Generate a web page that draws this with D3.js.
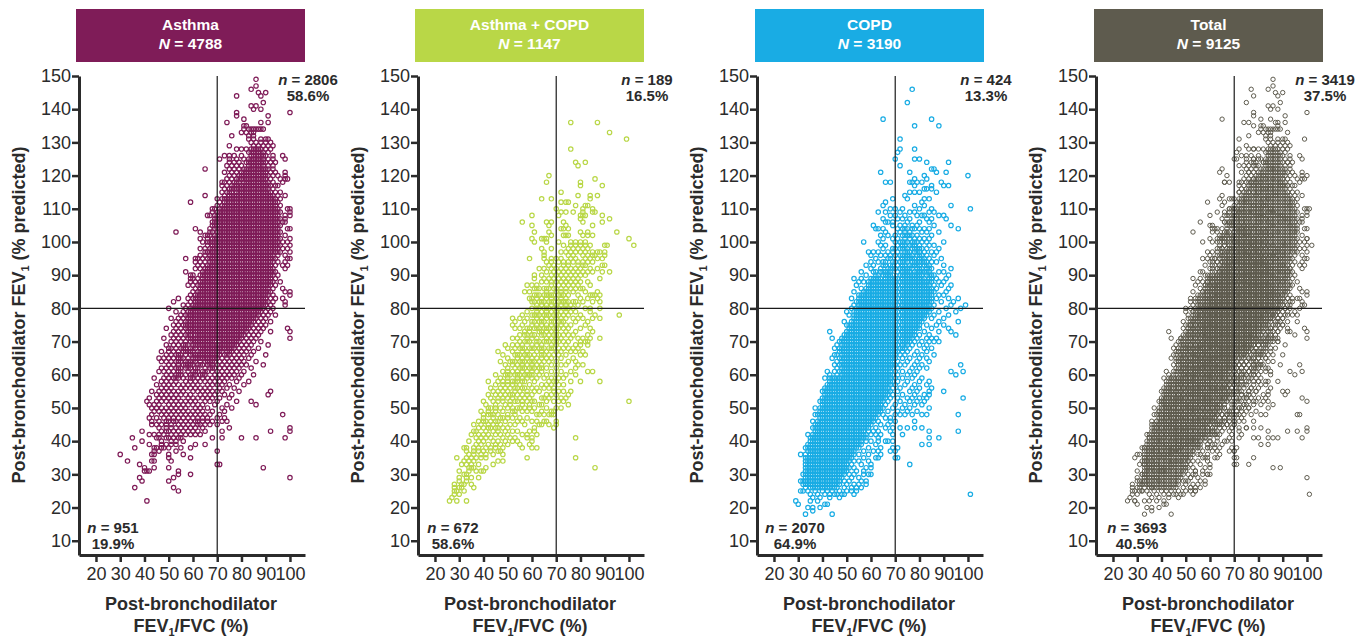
<!DOCTYPE html>
<html>
<head>
<meta charset="utf-8">
<script src="https://cdnjs.cloudflare.com/ajax/libs/d3/7.8.5/d3.min.js"></script>
<style>
body { margin: 0; background: #fff; }
svg { display: block; font-family: 'Liberation Sans', Arial, sans-serif; }
.tick text { font-size: 18px; fill: #2b2b2b; }
.title { font-size: 18px; font-weight: bold; fill: #2b2b2b; text-anchor: middle; }
.note { font-size: 15px; font-weight: bold; fill: #2b2b2b; text-anchor: middle; }
.head { font-size: 15.5px; font-weight: bold; fill: #fff; text-anchor: middle; }
</style>
</head>
<body>
<div id="chart"></div>
<script>
// each row is [FEV1 % predicted, FEV1/FVC values...]
const asthmaRows = [
[149,86],[147,86],[146,84],[145,87,90],[144,78,88],[142,89],[141,84,86],[140,85,88],[139,78,100],[138,78,91],[137,81],
[136,74,88,91],[135,81,82],[134,81,83,84,85,86,87,88,89],[133,80,82,84,85],[132,76,83,85],[131,83,85,88,90,91],
[130,84,86,88,90,92],[129,75,85,87,89,91,93],[128,78,80,82,84,86,88,90,92],[127,83,85,87,89,91],
[126,73,75,77,80,84,86,88,90,93,97],[125,71,75,78,81,83,85,87,89,91,93,98],
[124,75,77,79,82,84,86,88,90,92,94],[123,74,76,78,80,83,85,87,89,91,93],[122,65,75,77,79,81,83,85,87,89,91,93],
[121,73,76,78,80,82,84,86,88,90,92,94,98],[120,75,77,79,81,83,85,87,89,91,93,95,98],
[119,74,76,78,80,82,84,86,88,90,92,96,98,99],[118,72,73,75,77,79,81,83,85,87,89,91,93,97],
[117,72,74,76,78,80,82,84,86,88,90,92,94,95],[116,73,75,77,79,81,83,85,87,89,91,93],
[115,72,74,76,78,80,82,84,86,88,90,92,94,96],[114,65,73,75,77,79,81,83,85,87,89,91,93,95,98],
[113,70,72,74,76,78,80,82,84,86,88,90,92,94,96],[112,59,71,73,75,77,79,81,83,85,87,89,91,93,95],
[111,70,72,74,76,78,80,82,84,86,88,90,92,94,96],[110,68,69,71,73,75,77,79,81,83,85,87,89,91,93,95,99,100],
[109,68,70,72,74,76,78,80,82,84,86,88,90,92,94,96,100],[108,66,67,69,71,73,75,77,79,81,83,85,87,89,91,93,95,98,100],
[107,69,70,72,74,76,78,80,82,84,86,88,90,92,94,96,98],[106,68,69,71,73,75,77,79,81,83,85,87,89,91,93,95,97,98],
[105,68,70,72,74,76,78,80,82,84,86,88,90,92,94,96],[104,61,67,69,71,73,75,77,79,81,83,85,87,89,91,93,95,99,100],
[103,53,63,67,68,70,72,74,76,78,80,82,84,86,88,90,92,94,96],[102,65,66,67,69,71,73,75,77,79,81,83,85,87,89,91,93,95,98],
[101,63,66,68,70,72,74,76,78,80,82,84,86,88,90,92,94,96,100],[100,64,66,67,69,71,73,75,77,79,81,83,85,87,89,91,93,95,97,99],
[99,66,68,70,72,74,76,78,80,82,84,86,88,90,92,94,96,100],[98,63,65,67,69,71,73,75,77,79,81,83,85,87,89,91,93,95,97,99],
[97,65,66,68,70,72,74,76,78,80,82,84,86,88,90,92,94,96,100],[96,63,65,67,69,71,73,75,77,79,81,83,85,87,89,91,93,95,98],
[95,57,61,62,64,66,68,70,72,74,76,78,80,82,84,86,88,90,92,94,99,100],[94,61,63,65,67,69,71,73,75,77,79,81,83,85,87,89,91,93,95,98],
[93,62,64,66,68,70,72,74,76,78,80,82,84,86,88,90,92,94,97,99],[92,61,63,65,67,69,71,73,75,77,79,81,83,85,87,89,91,93,98],
[91,57,64,66,68,70,72,74,76,78,80,82,84,86,88,90,92,94],[90,59,60,63,65,67,69,71,73,75,77,79,81,83,85,87,89,91,93,95],
[89,59,60,62,64,66,68,70,72,74,76,78,80,82,84,86,88,90,92,94],[88,59,61,63,65,67,69,71,73,75,77,79,81,83,85,87,89,91,93,96],
[87,58,60,62,64,66,68,70,72,74,76,78,80,82,84,86,88,90,92,94],[86,61,63,65,67,69,71,73,75,77,79,81,83,85,87,89,91,93,97],
[85,60,62,64,66,68,70,72,74,76,78,80,82,84,86,88,90,92,98,100],[84,59,61,63,65,67,69,71,73,75,77,79,81,83,85,87,89,91,93,100],
[83,54,58,60,62,64,66,68,70,72,74,76,78,80,82,84,86,88,90,92,94,97],[82,52,59,61,63,65,67,69,71,73,75,77,79,81,83,85,87,89,91,93,98],
[81,56,58,60,62,64,66,68,70,72,74,76,78,80,82,84,86,88,90,92,98],[80,50,57,59,61,63,65,67,69,71,73,75,77,79,81,83,85,87,89,91,93],
[79,53,56,58,60,62,64,66,68,70,72,74,76,78,80,82,84,86,88,90,92],[78,55,57,59,61,63,65,67,69,71,73,75,77,79,81,83,85,87,89,91,94],
[77,51,54,56,58,60,62,64,66,68,70,72,74,76,78,80,82,84,86,88,90],[76,53,55,57,59,61,63,65,67,69,71,73,75,77,79,81,83,85,87,89,92],
[75,52,54,56,58,60,62,64,66,68,70,72,74,76,78,80,82,84,86,88,90],[74,49,53,55,57,59,61,63,65,67,69,71,73,75,77,79,81,83,85,87,89,99],
[73,52,54,56,58,60,62,64,66,68,70,72,74,76,78,80,82,84,86,88,92,100],[72,51,53,55,57,59,61,63,65,67,69,71,73,75,77,79,81,83,85,87],
[71,48,52,54,56,58,60,62,64,66,68,70,72,74,76,78,80,82,84,86,100],[70,51,53,55,57,59,61,63,65,67,69,71,73,75,77,79,81,83,85,88],
[69,49,52,54,56,58,60,62,64,66,68,70,72,74,76,78,80,82,84,91],[68,50,51,53,55,57,59,61,63,65,67,69,71,73,75,77,79,81,83,87],
[67,47,50,52,54,56,58,60,62,64,66,68,70,72,74,76,78,80,82,85],[66,49,51,53,55,57,59,61,63,65,67,69,71,73,75,77,79,81,84,90],
[65,46,48,50,52,54,56,58,60,62,64,66,68,70,72,74,76,78,80,83],[64,47,49,51,53,55,57,59,61,63,65,67,69,71,73,75,77,79,81,86],
[63,50,52,54,56,58,60,62,64,66,68,70,72,74,76,78,80,82,89],[62,47,49,51,53,55,57,59,61,65,67,69,71,73,75,77,79,84],
[61,46,48,50,52,54,58,60,62,64,66,68,70,72,74,76,78,81],[60,49,51,53,55,57,59,61,63,65,69,71,73,75,77,80,85],
[59,44,48,50,52,54,56,60,62,64,66,68,70,72,74,76,79],[58,47,49,51,53,57,59,61,63,65,67,69,71,73,78,83],
[57,45,48,50,52,54,56,58,60,62,66,68,70,72,75,81],[56,47,49,51,55,57,59,61,63,65,67,71,74,77],
[55,43,46,48,50,52,54,56,60,62,64,66,68,70,72,79,92],[54,45,47,49,51,53,55,57,59,63,65,67,69,73,76,91],
[53,42,46,48,50,52,54,58,60,62,64,66,68,71,75],[52,41,45,47,49,51,53,55,57,59,61,65,67,70,78,84],
[51,42,44,46,50,52,54,56,58,60,62,64,69,74,86],[50,43,45,47,49,51,53,55,57,61,63,66,72,76],
[49,44,46,48,50,52,54,56,58,60,62,64,68,73],[48,43,47,49,51,53,55,57,59,61,63,65,67,71,97],
[47,42,45,48,50,52,54,56,58,60,62,64,66,70,73],[46,43,46,49,50,52,53,55,57,59,61,62,64,66,68,72,74],
[45,43,45,47,49,51,54,56,58,60,62,63,65,67,70],[44,46,49,51,53,55,57,59,61,64,75,100],
[43,39,47,49,50,52,54,56,58,60,62,65,72,92,100],[42,42,44,46,48,51,53,55,57,59,61,63],
[41,35,45,46,49,50,52,54,55,68,72,80,86,98],[40,39,47,51,53,56],[39,42,47,49,51,53,61,65],
[38,36,44,45,47,48,50,55,59],[37,44,46,53,70],[36,30,43,44,50,56],[35,50,59],[34,33,43,44,51],
[33,38,70,71],[32,40,44,50,89],[31,40,41,42,54],[30,54,59],[29,38,52,100],[28,39,50],[26,36,52],[25,54],[22,41]
];

// further asthma readings inside the solid part of the cloud
const asthmaCore = [
[128,85,87],[127,84,86,88],[126,85,87,89],[125,84,86,88],[124,83,85,87,89],[123,84,86,88],[122,82,84,86,88,90],[121,81,83,85,87,89],
[120,80,82,84,86,88,90],[119,79,81,83,85,87,89],[118,78,82,84,86,88,90],[117,77,79,81,83,85,87,89,91],
[116,76,78,80,82,84,86,88,90],[115,75,79,81,83,85,87,89,91],[114,76,78,80,82,84,86,88,90,92],
[113,73,75,77,79,81,83,85,87,89,91,93],[112,74,76,78,80,82,84,86,88,90,92,94],[111,73,75,77,79,81,83,85,87,89,91,93],
[110,72,74,76,78,80,82,84,86,88,90,92,94],[109,71,73,75,77,79,81,83,85,87,89,91,93,95],[108,70,72,74,76,78,80,82,84,86,88,90,92,94],
[107,71,73,75,77,79,81,83,85,87,89,91,93,95],[106,70,72,74,76,78,80,82,84,86,88,90,92,94],[105,69,71,73,75,77,79,81,83,85,87,89,91,93,95],
[104,70,72,74,76,78,80,82,84,86,88,90,92,94],[103,71,73,75,77,79,81,83,85,87,89,91,93,95],[102,70,72,74,76,78,80,82,84,86,88,90,92,94],
[101,69,71,73,75,77,79,81,83,85,87,89,91,93,95],[100,68,70,72,74,76,78,80,82,84,86,88,90,92,94],[99,69,71,73,75,77,79,81,83,85,87,89,91,93,95],
[98,68,70,72,74,76,78,80,82,84,86,88,90,92,94],[97,67,69,71,73,75,77,79,81,83,85,87,89,91,93,95],[96,68,70,72,74,76,78,80,82,84,86,88,90,92],
[95,67,69,71,73,75,77,79,81,83,85,87,89,91,93],[94,68,70,72,74,76,78,80,82,84,86,88,90,92],[93,67,69,71,73,75,77,79,81,83,85,87,89,91],
[92,66,68,70,72,74,76,78,80,82,84,86,88,90,92],[91,65,67,69,71,73,75,77,79,81,83,85,87,89,91,93],[90,64,66,68,70,72,74,76,78,80,82,84,86,88,90,92],
[89,65,67,69,71,73,75,77,79,81,83,85,87,89,91],[88,64,66,68,70,72,74,76,78,80,82,84,86,88,90,92],[87,63,65,67,69,71,73,75,77,79,81,83,85,87,89,91],
[86,64,66,68,70,72,74,76,78,80,82,84,86,88,90],[85,63,65,67,69,71,73,75,77,79,81,83,85,87,89,91],[84,62,64,66,68,70,72,74,76,78,80,82,84,86,88,90],
[83,61,63,65,67,69,71,73,75,77,79,81,83,85,87,89],[82,62,64,66,68,70,72,74,76,78,80,82,84,86,88,90],[81,61,63,65,67,69,71,73,75,77,79,81,83,85,87,89],
[80,60,62,64,66,68,70,72,74,76,78,80,82,84,86,88],[79,59,61,63,65,67,69,71,73,75,77,79,81,83,85,87],[78,58,60,62,64,66,68,70,72,74,76,78,80,82,84,86],
[77,59,61,63,65,67,69,71,73,75,77,79,81,83,85],[76,58,60,62,64,66,68,70,72,74,76,78,80,82,84],[75,57,59,61,63,65,67,69,71,73,75,77,79,81,83],
[74,58,60,62,64,66,68,70,72,74,76,78,80,82],[73,59,61,63,65,67,69,71,73,75,77,79,81],[72,58,62,64,66,68,70,72,74,76,78,80],
[71,59,61,63,65,67,69,71,73,75,77,79],[70,60,62,64,66,68,72,74,76,78],[69,57,61,63,65,67,69,71,73,75,77],
[68,56,60,64,66,68,70,72,74,76],[67,57,59,63,65,67,69,71,75],[66,54,60,62,64,66,68,70,74],
[65,55,61,63,65,67,69],[64,54,58,60,66,68],[63,57,59,63,67],[62,54,58,62,68],[61,55,61,65],[60,54,60,64],[59,53,59]
];

const bothRows = [
[136,76,87],[133,92],[131,99],[128,76],[124,78,82],[123,79],[120,67],[119,86],[118,66,80],[117,80,89],[115,72],[114,79,84,87],
[113,64,68,84],[112,72,74,75],[111,78,82,83],[110,70,81,85],[109,72,74,77,81,85,86],[108,60,71,80,81,82,89],[107,80,92],
[106,56,66,68,73,81,89],[105,60,67,74,85],[104,72,73,75],[103,61,67,80,83,95],[102,68,73,74,75,81,83,85],
[101,60,64,65,66,100],[100,61,66,71,76,78,80,82],[99,73,76,78,80,82,84,90,91,102],[98,64,68,75,77,79,81,83],
[97,65,72,74,76,78,80,82,85,87,88,90],[96,65,75,77,81,83,85,86,90],[95,59,65,68,70,72,76,78,82,84,87,89],
[94,66,68,71,73,75,77,79,81,83,85],[93,67,69,73,75,79,81,82,89,90],[92,63,65,68,70,72,74,76,78,80,84,87],
[91,66,69,71,73,75,77,79,81,83,85,89,92],[90,61,64,68,70,72,74,76,78,80,82],[89,61,65,67,69,71,73,75,77,79,88],
[88,64,66,70,72,74,76,78,80,83],[87,58,60,62,68,71,73,75,77,79,84],[86,61,63,65,67,69,72,74,76,78,80,81],
[85,57,59,66,70,72,74,77,82,87],[84,61,63,65,67,69,71,73,75,79,84,85,86,88],[83,59,60,62,64,66,68,70,72,74,80,83,87],
[82,61,63,65,67,69,71,73,75,77,78,81,85,88],[81,62,64,66,68,70,72,74,76,79],[80,60,63,65,67,69,71,73,75,77,82,84,88],
[79,58,62,64,66,68,70,72,74,76,78,84],[78,56,60,61,63,65,67,69,71,73,75,80,86,96],[77,52,55,58,62,64,66,68,70,72,74,77,79,81,85,88],
[76,53,57,61,63,65,69,71,73,78,83],[75,52,56,60,62,64,66,68,70,72,74,76,82],[74,53,55,59,61,63,65,67,69,71,73,75,80,84],
[73,57,59,63,64,66,68,70,74,78,85],[72,55,57,61,65,67,69,71,73,75,77,83],[71,52,54,58,60,62,66,68,70,72,76,79,81,84,88],
[70,55,57,59,63,65,67,69,71,73,75,80,82,83],[69,49,52,54,56,60,62,64,68,70,74,78,80,83],[68,50,53,55,57,59,61,63,65,67,69,71,73,75,77,79],
[67,46,52,56,58,62,64,66,70,72,76,78,81],[66,48,53,55,57,59,61,65,67,69,71,74,80,82],[65,50,54,56,58,60,62,64,66,68,72,77],
[64,47,51,53,55,57,59,61,63,65,67,70,75,78],[63,49,52,54,56,58,60,62,64,68,72,74,79,81],[62,53,55,57,59,61,63,66,70,78],
[61,48,50,52,54,56,58,60,62,64,68,72,76,83,85],[60,45,49,51,53,55,57,59,63,66,70,74,78],[59,47,50,54,56,58,60,62,65,68,71,73],
[58,42,46,48,52,53,57,61,67,69,70,76,80,88],[57,45,48,50,52,55,59,64,66,68,71,73],[56,43,47,49,51,54,57,60,62,65,67,69],
[55,44,46,48,50,53,55,58,61,63,69,71,73,76],[54,42,45,47,52,54,56,58,60,66,68,70,75],[53,43,46,48,50,52,55,57,59,64,65,67,72,74],
[52,40,44,46,48,51,53,54,56,58,60,61,66,69,71,73,100],[51,41,45,49,51,56,59,63,64,75],[50,43,47,50,52,54,55,57,59,61,66,70,72],
[49,39,42,45,48,52,53,56,58,60,64,68,69],[48,40,43,46,50,53,62,63,65,67,68,69],[47,40,44,47,48,50,52,55,58],
[46,38,41,45,46,49,54,56,60,62,65,66,70],[45,36,39,42,44,47,51,53,57,63,64,67,70],[44,38,40,43,45,48,50,61,69],
[43,36,37,41,44,46,49,52,54,59,61],[42,35,38,40,42,45,47,50,56,58,62],[41,37,39,41,43,48,51,53,58,60,78],
[40,34,38,40,44,46,49,52,54,60],[39,37,39,42,45,47,50,55,59],[38,32,33,36,38,41,43,45,48,56,60,62],
[37,33,36,38,40,43,46,47],[36,34,36,39,41,44,48],[35,29,33,35,37,39,41,58,78],[34,32,34,36,46,48],
[33,31,33,35,38,44],[32,34,35,36,41,86],[31,30,34,37,39,40],[30,32,33],[29,30,33,35,38],[28,30,33],
[27,28,31,32,35],[26,28,30,31,36],[25,28,29,32],[24,28,30],[23,27],[22,26,29,33]
];

// further readings where the Asthma + COPD cloud is thickest
const bothCore = [
[88,68,74],[86,62,66,70],[84,62,66,68,72],[82,60,64,68,72,74],[80,62,66,70,74],[78,62,66,70],[76,60,64,68,72],
[74,58,62,66,70],[72,58,60,64,70],[70,58,62,66,70],[68,56,60,64,68],[66,54,58,64],[64,52,56,60],[62,50,56,60,64],
[60,50,54,58,60],[58,50,54,56],[56,53,56],[54,49,51],[50,42,45],[48,42,44],[46,40,43],[44,42,46]
];

const copdRows = [
[146,77],[142,75],[137,65,85],[135,78,88],[131,72],[128,72,78],[127,71],[125,70,78,80],[124,83,92],[123,72],
[122,85,86],[121,64,76,87,91],[120,100,82],[119,78,83],[118,66,68,76,77,79,81,89],[117,78,85,90,92],[116,82,83,85],
[115,76,78,80,87],[114,74],[113,69,75,82,84],[112,66,81],[111,65,78,82,93],[110,68,70,73,80,85,101],[109,63,66,72,76,78,84,86],
[108,68,70,74,79,81,82,88,90],[107,65,71,73,76,83,85,91],[106,66,67,69,75,80,84],[105,61,69,72,74,77,79,86,93],
[104,62,63,65,71,73,75,78,80,82,84,96],[103,66,72,74,76,81,83,88],[102,64,67,70,73,75,77,79,85],[101,65,69,71,74,76,78,80,82,84],
[100,57,63,70,72,73,75,77,79,81,83,90],[99,64,66,71,74,76,78,80,84,86],[98,65,69,70,72,73,75,77,79,81,83,88],
[97,59,61,63,67,71,74,76,78,80,82,85,87],[96,60,64,66,70,72,73,75,77,79,81,83,86],[95,62,68,71,74,76,78,80,82,84,89],
[94,60,63,65,69,70,72,73,75,77,79,81,83,85,87],[93,58,61,66,68,71,74,76,78,80,82,84,90],[92,60,67,69,70,72,73,75,77,79,81,83,85,93],
[91,56,62,64,66,68,71,74,76,78,80,82,84,88,90],[90,58,63,65,67,69,72,73,75,77,79,81,83,85,86,92],
[89,53,56,60,62,64,66,68,70,71,74,76,78,80,82,84,87,91],[88,55,57,59,61,63,65,67,69,72,73,75,77,79,81,83,85,88,90],
[87,54,60,62,64,66,68,70,71,74,76,78,80,82,84,86,89,93],[86,56,59,61,63,65,67,69,72,73,75,77,79,81,83,85,87,92],
[85,53,58,60,62,64,66,68,70,71,74,76,78,80,82,84,86,91],[84,55,57,59,61,63,65,67,69,72,73,75,77,79,81,83,85,88,90],
[83,52,56,58,60,62,64,66,68,70,71,74,76,78,80,82,84,87,92,96],[82,54,55,57,59,61,63,65,67,69,72,73,75,77,79,81,83,85,89,94],
[81,53,56,58,60,62,64,66,68,70,71,74,76,78,80,82,84,86,93,99],[80,52,55,57,59,61,63,65,67,69,72,73,75,77,79,81,83,85,91,97],
[79,50,54,56,58,60,62,64,66,68,70,71,74,76,78,80,82,84,88,95],[78,51,53,55,57,59,61,63,65,67,69,72,73,75,77,79,81,83,86,92],
[77,54,56,58,60,62,64,66,68,70,71,74,76,78,80,82,85,90],[76,49,53,55,57,59,61,63,65,67,69,72,73,75,77,79,81,88,96],
[75,50,52,54,56,58,60,62,64,66,68,70,71,74,76,78,80,83,87,90],[74,51,53,55,57,59,61,63,65,67,69,72,73,75,77,79,85,92],
[73,43,50,52,54,56,58,60,62,64,66,68,70,71,74,76,78,82,88,93],[72,49,51,53,55,57,59,61,63,65,67,69,72,73,75,77,80,84,95],
[71,44,48,50,52,54,56,58,60,62,64,66,68,70,71,74,76,79,83,85,87],[70,47,49,51,53,55,57,59,61,63,65,67,69,72,73,75,78,81,84,86,88],
[69,46,48,50,52,54,56,58,60,62,64,66,68,70,71,74,77,80,83],[68,45,47,49,51,53,55,57,59,61,63,65,67,69,72,73,76,82,85],
[67,47,48,50,52,54,56,58,60,62,64,66,68,70,71,75,79,83],[66,45,46,49,51,53,55,57,59,61,63,65,67,69,72,74,78,81,86],
[65,44,47,48,50,52,54,56,58,60,62,64,66,68,70,73,76,80,83],[64,46,49,51,53,55,57,59,61,63,65,67,69,71,75,79,84],
[63,45,47,48,50,52,54,56,58,60,62,64,66,68,70,72,74,78,81,97],[62,46,49,51,53,55,57,59,61,63,65,67,69,71,77,80,83],
[61,42,45,47,48,50,52,54,56,58,60,62,64,66,68,70,73,76,79,93,98],[60,43,46,49,51,53,55,57,59,61,63,65,67,69,71,75,78,95],
[59,41,44,45,47,48,50,52,54,56,58,60,62,64,66,68,70,73,77,81],[58,43,46,49,51,53,55,57,59,61,63,65,67,69,71,75,80,84],
[57,42,44,45,47,48,50,52,54,56,58,60,62,64,66,68,70,74,78,83],[56,41,43,46,49,51,53,55,57,59,61,63,65,67,69,72,77,80,85],
[55,40,42,44,45,47,48,50,52,54,56,58,60,62,64,66,68,71,76,79,84,90],[54,41,43,46,49,51,53,55,57,59,61,63,65,67,69,73,78,82,84],
[53,40,42,44,45,47,48,50,52,54,56,58,60,62,64,66,68,71,75,77,80,83,98],[52,39,41,43,46,49,51,53,55,57,59,61,63,65,67,72,76,79,82],
[51,40,42,44,45,47,48,50,52,54,56,58,60,62,64,66,70,74,78,81],[50,37,39,41,43,46,49,51,53,55,57,59,61,63,65,69,73,76,84],
[49,39,40,42,44,45,47,48,50,52,54,56,58,60,62,64,67,71,75,79],[48,37,38,41,43,46,49,51,53,55,57,59,61,63,65,70,72,74,77,81,83,96],
[47,39,40,42,44,45,47,48,50,52,54,56,58,60,62,66,68],[46,36,38,41,43,46,49,51,53,55,57,59,61,63,68,70,78],
[45,38,40,42,44,45,47,48,50,52,54,56,58,60,64,67],[44,36,37,39,41,43,46,49,51,53,55,57,59,62,66,69,72,75,78,81],
[43,38,40,42,44,45,47,48,50,52,54,56,59,61,63,68,84,96],[42,34,36,39,41,43,46,49,51,53,55,57,60,62,64,69,73],
[41,35,37,38,40,42,44,45,47,48,50,52,54,56,58,63,84,88],[40,36,39,41,43,46,49,51,53,55,58,60,63,66,67,69],
[39,34,35,37,38,40,42,44,45,47,48,50,52,54,56,62,81,84],[38,33,36,39,41,43,46,49,51,53,55,59,64,69,71],
[37,34,35,37,38,40,42,44,45,47,48,50,52,57,61,63,68,70],[36,31,36,39,41,43,46,49,51,53,55,59,64],
[35,33,34,35,37,38,40,42,44,45,47,48,50,52,57,62,63,70,71],[34,36,39,41,43,46,49,51,53,55,59],
[33,33,35,37,38,40,42,44,45,47,48,50,52,56,60,76],[32,34,36,39,41,43,46,49,51,53,58,60],
[31,33,35,37,38,40,42,44,45,47,48,50,54,57],[30,32,34,36,39,41,43,46,49,51,53,57,59,60],
[29,33,35,37,38,40,42,44,45,47,48,52,55],[28,31,32,34,36,39,41,43,46,49,51,56,58],
[27,32,35,37,38,40,42,44,45,47,50,53,55,58],[26,33,36,39,41,43,46,49,52,54,56],
[25,31,32,34,37,40,42,44,47,50,52,54],[24,35,38,41,43,45,46,48,49,53,101],[23,36,39,43,47],[22,29,35,38],
[21,30,41,42],[20,34,36,39],[19,36],[18,33,44]
];

// further COPD readings inside the solid part of the cloud
const copdCore = [
[104,74,77],[102,74,76],[100,74,78],[99,73,77],[98,74,78,80],[97,69,75,79],[96,68,74,76,80],
[95,67,73,75,77,81],[94,66,74,78,80,82],[93,65,69,73,77,79,83],[92,64,68,74,76,80,84],
[91,61,65,67,73,75,79,81,83],[90,62,66,68,74,76,78,80,84],[89,61,63,67,69,73,75,77,79,81,85],
[88,60,62,64,66,68,70,74,76,78,80,82,84],[87,59,61,63,65,67,69,73,75,77,79,81,83],[86,58,60,62,64,66,68,70,74,76,78,80,82,84],
[85,57,59,61,63,65,67,69,73,75,77,79,81,83,85],[84,56,58,60,62,64,66,68,70,74,76,78,80,82,84],[83,55,57,59,61,63,65,67,69,73,75,77,79,81,83,85],
[82,56,58,60,62,64,66,68,70,74,76,78,80,82,84],[81,55,57,59,61,63,65,67,69,73,75,77,79,81,83],[80,54,56,58,60,62,64,66,68,70,74,76,78,80,82,84],
[79,53,55,57,59,61,63,65,67,69,73,75,77,79,81,83],[78,54,56,58,60,62,64,66,68,70,74,76,78,80,82],[77,53,55,57,59,61,63,65,67,69,73,75,77,79,81],
[76,52,54,56,58,60,62,64,66,68,70,74,76,78,80],[75,51,53,55,57,59,61,63,65,67,69,73,75,77,79],[74,52,54,56,58,60,62,64,66,68,70,74,76,78,80],
[73,51,53,55,57,59,61,63,65,67,69,73,75,77],[72,50,52,54,56,58,60,62,64,66,68,70,74,76,78],[71,49,51,53,55,57,59,61,63,65,67,69,73,75,77],
[70,48,50,52,54,56,58,60,62,64,66,68,70,74,76],[69,49,51,53,55,57,59,61,63,65,67,69,73,75],[68,48,50,52,54,56,58,60,62,64,66,68,70,74],
[67,49,51,53,55,57,59,61,63,65,67,69,73],[66,48,50,52,54,56,58,60,62,64,66,68,70],[65,49,51,53,55,57,59,61,63,65,67,69],
[64,48,50,52,54,56,58,60,62,64,66,68],[63,49,51,53,55,57,59,61,63,65,67,69],[62,48,50,52,54,56,58,60,62,64,66,68],
[61,49,51,53,55,57,59,61,63,65,67],[60,48,50,52,54,56,58,60,62,64,66,68],[59,43,46,49,51,53,55,57,59,61,63,65,67],
[58,44,45,47,48,50,52,54,56,58,60,62,64,66,68],[57,43,46,49,51,53,55,57,59,61,63,65,67],[56,42,44,45,47,48,50,52,54,56,58,60,62,64,66],
[55,41,43,46,49,51,53,55,57,59,61,63,65,67],[54,42,44,45,47,48,50,52,54,56,58,60,62,64,66],[53,41,43,46,49,51,53,55,57,59,61,63,65],
[52,40,42,44,45,47,48,50,52,54,56,58,60,62,64],[51,41,43,46,49,51,53,55,57,59,61,63],[50,40,42,44,45,47,48,50,52,54,56,58,60,62,64],
[49,41,43,46,49,51,53,55,57,59,61,63],[48,39,40,42,44,45,47,48,50,52,54,56,58,60,62],[47,41,43,46,49,51,53,55,57,59,61],
[46,39,40,42,44,45,47,48,50,52,54,56,58,60],[45,37,39,41,43,46,49,51,53,55,57,59],[44,38,40,42,44,45,47,48,50,52,54,56,58],
[43,37,39,41,43,46,49,51,53,55,57],[42,37,38,40,42,44,45,47,48,50,52,54,56,58],[41,36,39,41,43,46,49,51,53,55,57],
[40,35,37,38,40,42,44,45,47,48,50,52,54,56],[39,36,39,41,43,46,49,51,53,55],[38,34,35,37,38,40,42,44,45,47,48,50,52,54],
[37,36,39,41,43,46,49,51,53],[36,33,35,37,38,40,42,44,45,47,48,50,52],[35,36,39,41,43,46,49,51],[34,33,34,35,37,38,40,42,44,45,47,48,50],
[33,34,36,39,41,43,46,49],[32,33,35,37,38,40,42,44,45,47,48,50],[31,34,36,39,41,43,46,49],[30,33,35,37,38,40,42,44,45,47,48],
[29,34,36,39,41,43,46],[28,33,35,37,38,40,42,44,45,47],[27,33,34,36,39,41,43,46],[26,35,37,38,40,42,44,45]
];

const asthmaPoints = asthmaRows.concat(asthmaCore);
const bothPoints = bothRows.concat(bothCore);
const copdPoints = copdRows.concat(copdCore);
const totalPoints = asthmaPoints.concat(bothPoints, copdPoints);

const panelNames = ["Asthma", "Asthma + COPD", "COPD", "Total"];
const panelN = ["4788", "1147", "3190", "9125"];
const panelRows = [asthmaPoints, bothPoints, copdPoints, totalPoints];
const panelColors = ["#7f1c58", "#b9d747", "#19ace4", "#5e5b4e"];
const upperN = ["2806", "189", "424", "3419"];
const upperPct = ["58.6%", "16.5%", "13.3%", "37.5%"];
const lowerN = ["951", "672", "2070", "3693"];
const lowerPct = ["19.9%", "58.6%", "64.9%", "40.5%"];
const xTicks = [20, 30, 40, 50, 60, 70, 80, 90, 100];
const yTicks = [10, 20, 30, 40, 50, 60, 70, 80, 90, 100, 110, 120, 130, 140, 150];

const panelLeft = [79, 418, 757, 1096];
const headLeft = [76, 415, 755, 1094];
const plotWidth = 226;
const plotHeight = 479;
const plotTop = 76;

const svg = d3.select("#chart").append("svg")
    .attr("width", 1369)
    .attr("height", 638);

const x = d3.scaleLinear().domain([13, 106.2]).range([0, plotWidth]);
const y = d3.scaleLinear().domain([5.7, 150]).range([plotHeight, 0]);

panelNames.forEach(function (name, p) {
    const g = svg.append("g")
        .attr("transform", "translate(" + panelLeft[p] + "," + plotTop + ")");

    // coloured header box
    const hx = headLeft[p] - panelLeft[p];
    g.append("rect")
        .attr("x", hx)
        .attr("y", -67)
        .attr("width", 229)
        .attr("height", 53)
        .attr("fill", panelColors[p]);
    g.append("text").attr("class", "head")
        .attr("x", hx + 114.5).attr("y", -46)
        .text(name);
    const nHead = g.append("text").attr("class", "head")
        .attr("x", hx + 114.5).attr("y", -27);
    nHead.append("tspan").attr("font-style", "italic").text("N");
    nHead.append("tspan").text(" = " + panelN[p]);

    // points
    const pts = [];
    panelRows[p].forEach(function (row) {
        row.slice(1).forEach(function (v) { pts.push({ x: v, y: row[0] }); });
    });
    g.selectAll("circle")
        .data(pts)
        .enter().append("circle")
        .attr("cx", d => x(d.x))
        .attr("cy", d => y(d.y))
        .attr("r", 2.2)
        .attr("fill", "none")
        .attr("stroke", panelColors[p])
        .attr("stroke-width", p == 3 ? 1 : 1.2);

    // cut-off lines
    g.append("line")
        .attr("x1", x(70)).attr("x2", x(70))
        .attr("y1", 0).attr("y2", plotHeight)
        .attr("stroke", "#1a1a1a").attr("stroke-width", 1.2);
    g.append("line")
        .attr("x1", 0).attr("x2", plotWidth)
        .attr("y1", y(80)).attr("y2", y(80))
        .attr("stroke", "#1a1a1a").attr("stroke-width", 1.2);

    // axes
    const xAxis = g.append("g")
        .attr("transform", "translate(0," + plotHeight + ")")
        .call(d3.axisBottom(x).tickValues(xTicks).tickSize(7).tickSizeOuter(0).tickPadding(5));
    const yAxis = g.append("g")
        .call(d3.axisLeft(y).tickValues(yTicks).tickSize(7).tickSizeOuter(0).tickPadding(1));
    [xAxis, yAxis].forEach(function (a) {
        a.select(".domain").attr("stroke", "#2b2b2b").attr("stroke-width", 3);
        a.selectAll(".tick line").attr("stroke", "#2b2b2b").attr("stroke-width", 2.5);
    });

    // x title
    g.append("text").attr("class", "title")
        .attr("x", 112).attr("y", 534)
        .text("Post-bronchodilator");
    const xt = g.append("text").attr("class", "title")
        .attr("x", 112).attr("y", 556);
    xt.append("tspan").text("FEV");
    xt.append("tspan").attr("dy", 4).attr("font-size", 11).text("1");
    xt.append("tspan").attr("dy", -4).text("/FVC (%)");

    // y title
    const yt = g.append("text").attr("class", "title")
        .attr("transform", "translate(-54,239) rotate(-90)");
    yt.append("tspan").text("Post-bronchodilator FEV");
    yt.append("tspan").attr("dy", 4).attr("font-size", 11).text("1");
    yt.append("tspan").attr("dy", -4).text(" (% predicted)");

    // quadrant counts
    const upper = g.append("text").attr("class", "note").attr("x", 229).attr("y", 9);
    upper.append("tspan").attr("font-style", "italic").text("n");
    upper.append("tspan").text(" = " + upperN[p]);
    g.append("text").attr("class", "note").attr("x", 229).attr("y", 25).text(upperPct[p]);

    const lowerX = p == 0 ? 34 : p == 1 ? 35 : p == 2 ? 38 : 41;
    const lower = g.append("text").attr("class", "note").attr("x", lowerX).attr("y", 457);
    lower.append("tspan").attr("font-style", "italic").text("n");
    lower.append("tspan").text(" = " + lowerN[p]);
    g.append("text").attr("class", "note").attr("x", lowerX).attr("y", 473).text(lowerPct[p]);
});
</script>
</body>
</html>
